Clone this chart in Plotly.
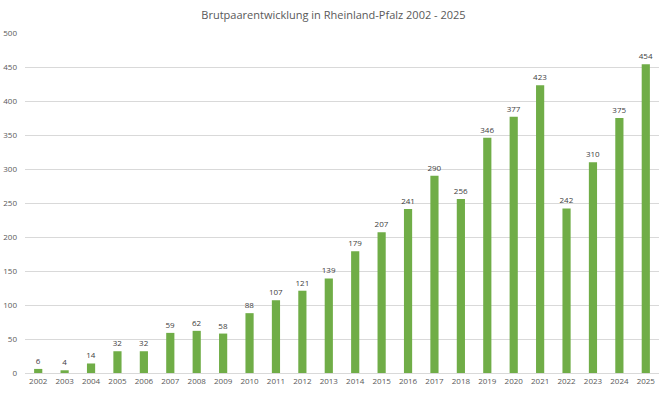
import plotly.graph_objects as go

years = [str(y) for y in range(2002, 2026)]
pairs = [6, 4, 14, 32, 32, 59, 62, 58, 88, 107, 121, 139, 179, 207, 241, 290, 256, 346, 377, 423, 242, 310, 375, 454]
y_ticks = [0, 50, 100, 150, 200, 250, 300, 350, 400, 450, 500]

fig = go.Figure(go.Bar(
    x=years, y=pairs,
    marker=dict(color="#70AD47", line=dict(width=0)),
    text=[str(v) for v in pairs], textposition="outside",
    outsidetextfont=dict(size=8, color="#404040", family="Open Sans"),
    constraintext="none",
    cliponaxis=False,
))
fig.update_layout(
    width=667, height=395,
    margin=dict(l=25, r=8, t=33, b=22),
    paper_bgcolor="white", plot_bgcolor="white",
    bargap=0.69,
    uniformtext=dict(minsize=8, mode="show"),
    title=dict(text="Brutpaarentwicklung in Rheinland-Pfalz 2002 - 2025",
               x=0.5, xanchor="center", y=0.962, yanchor="middle",
               font=dict(size=11, color="#595959", family="Open Sans")),
    font=dict(family="Open Sans", color="#595959"),
    showlegend=False,
)
fig.update_xaxes(type="category", tickfont=dict(size=8, color="#595959"),
                 showgrid=False, showline=True, linecolor="#D9D9D9", ticks="",
                 automargin=False)
fig.update_yaxes(range=[0, 500], tickvals=y_ticks, tickfont=dict(size=8, color="#595959"),
                 showgrid=True, gridcolor="#D9D9D9", gridwidth=1, zeroline=False, ticks="",
                 ticklabelstandoff=7, automargin=False)
fig.write_html("out.html")
